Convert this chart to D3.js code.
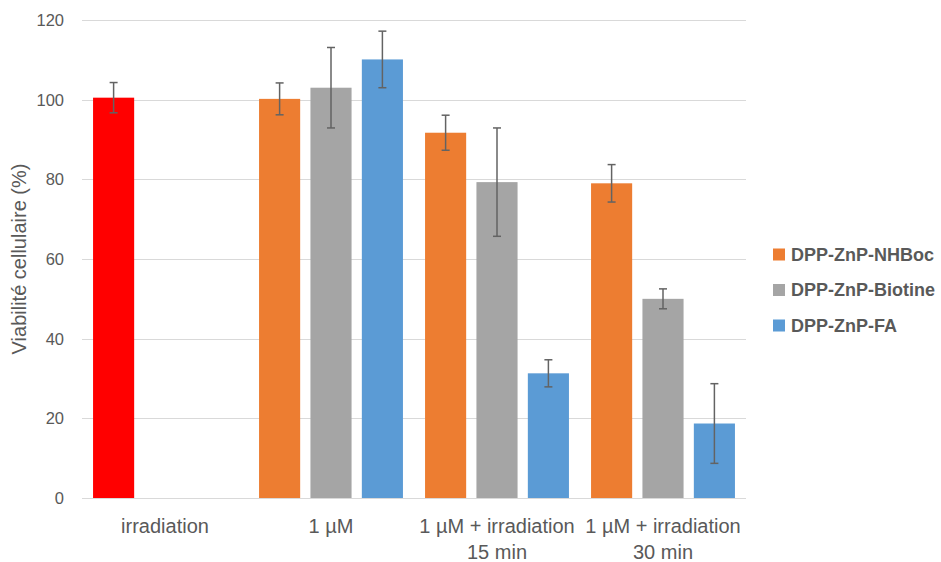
<!DOCTYPE html>
<html>
<head>
<meta charset="utf-8">
<script src="https://cdn.jsdelivr.net/npm/d3@7"></script>
<style>
  html, body { margin: 0; padding: 0; background: #fff; }
  svg { display: block; }
</style>
</head>
<body>
<svg id="chart" width="941" height="562"></svg>
<script>
const categories = [["irradiation"], ["1 µM"], ["1 µM + irradiation", "15 min"], ["1 µM + irradiation", "30 min"]];
const seriesNames = ["DPP-ZnP-NHBoc", "DPP-ZnP-Biotine", "DPP-ZnP-FA"];
const seriesColors = ["#ED7D31", "#A5A5A5", "#5B9BD5"];
const controlColor = "#FF0000";
const nhbocValues = [100.5, 100.2, 91.7, 79.0];
const nhbocErrors = [3.8, 4.0, 4.4, 4.7];
const biotineValues = [null, 103.0, 79.3, 50.0];
const biotineErrors = [null, 10.1, 13.6, 2.5];
const faValues = [null, 110.1, 31.3, 18.7];
const faErrors = [null, 7.1, 3.4, 10.0];
const yTicks = [0, 20, 40, 60, 80, 100, 120];

const seriesValues = [nhbocValues, biotineValues, faValues];
const seriesErrors = [nhbocErrors, biotineErrors, faErrors];

const svg = d3.select("#chart");
const font = "'Liberation Sans', Arial, sans-serif";
const textColor = "#595959";

const x0 = d3.scaleBand().domain(d3.range(categories.length)).range([82, 746]).padding(0);
const x1 = d3.scaleBand().domain(d3.range(seriesNames.length)).range([0, x0.bandwidth()])
  .paddingInner(0.2).paddingOuter(0.215);
const y = d3.scaleLinear().domain([0, 120]).range([498, 20]);

// gridlines
svg.append("g").selectAll("line").data(yTicks).join("line")
  .attr("x1", 82).attr("x2", 746)
  .attr("y1", d => Math.round(y(d)) + 0.5).attr("y2", d => Math.round(y(d)) + 0.5)
  .attr("stroke", "#D9D9D9").attr("stroke-width", 1);

// y tick labels
svg.append("g").selectAll("text").data(yTicks).join("text")
  .attr("x", 64).attr("y", d => y(d)).attr("dy", "0.36em")
  .attr("text-anchor", "end").attr("font-family", font).attr("font-size", 16.5)
  .attr("fill", textColor).text(d => d);

// y axis title
svg.append("text")
  .attr("transform", `translate(26,${y(60)}) rotate(-90)`)
  .attr("text-anchor", "middle").attr("font-family", font).attr("font-size", 20)
  .attr("fill", textColor).text("Viabilité cellulaire (%)");

// bars
const bars = [];
seriesValues.forEach((vals, s) => {
  vals.forEach((v, c) => {
    if (v !== null) bars.push({ s, c, v, e: seriesErrors[s][c] });
  });
});

svg.append("g").selectAll("rect").data(bars).join("rect")
  .attr("x", d => x0(d.c) + x1(d.s))
  .attr("width", x1.bandwidth())
  .attr("y", d => y(d.v))
  .attr("height", d => y(0) - y(d.v))
  .attr("fill", d => d.c === 0 ? controlColor : seriesColors[d.s]);

// error bars
const eg = svg.append("g").attr("stroke", "#636363").attr("stroke-width", 1.5).attr("fill", "none");
bars.forEach(d => {
  const cx = x0(d.c) + x1(d.s) + x1.bandwidth() / 2;
  const yt = y(d.v + d.e), yb = y(d.v - d.e);
  eg.append("line").attr("x1", cx).attr("x2", cx).attr("y1", yt).attr("y2", yb);
  eg.append("line").attr("x1", cx - 4).attr("x2", cx + 4).attr("y1", yt).attr("y2", yt);
  eg.append("line").attr("x1", cx - 4).attr("x2", cx + 4).attr("y1", yb).attr("y2", yb);
});

// x labels
const xl = svg.append("g");
categories.forEach((lines, c) => {
  const t = xl.append("text")
    .attr("x", x0(c) + x0.bandwidth() / 2).attr("y", 533)
    .attr("text-anchor", "middle").attr("font-family", font).attr("font-size", 20)
    .attr("fill", textColor);
  lines.forEach((ln, i) => {
    t.append("tspan").attr("x", x0(c) + x0.bandwidth() / 2).attr("dy", i === 0 ? 0 : 26).text(ln);
  });
});

// legend
const lg = svg.append("g");
seriesNames.forEach((name, i) => {
  const ly = 254.5 + i * 35.5;
  lg.append("rect").attr("x", 773).attr("y", ly - 6).attr("width", 12).attr("height", 12)
    .attr("fill", seriesColors[i]);
  lg.append("text").attr("x", 791).attr("y", ly).attr("dy", "0.36em")
    .attr("font-family", font).attr("font-size", 18).attr("font-weight", "bold")
    .attr("fill", textColor).text(name);
});
</script>
</body>
</html>
